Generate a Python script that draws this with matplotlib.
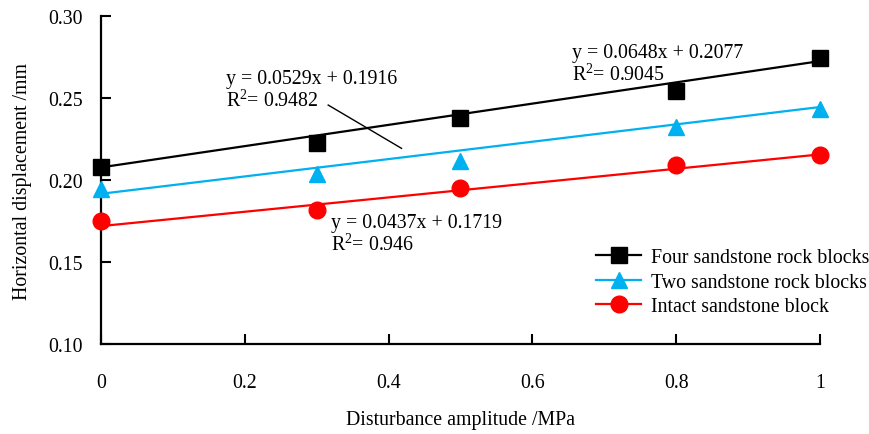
import matplotlib
matplotlib.use("Agg")
from matplotlib import pyplot as plt
from matplotlib.lines import Line2D
import numpy as np

plt.rcParams['font.family'] = ['Liberation Serif', 'DejaVu Serif']
plt.rcParams['mathtext.fontset'] = 'custom'
plt.rcParams['mathtext.rm'] = 'Liberation Serif'
plt.rcParams['mathtext.it'] = 'Liberation Serif:italic'

# data
amplitude = [0, 0.3, 0.5, 0.8, 1.0]
four_blocks = [0.208, 0.2223, 0.2376, 0.2541, 0.2744]
two_blocks = [0.1945, 0.2036, 0.2118, 0.2325, 0.2435]
intact_block = [0.175, 0.1817, 0.1949, 0.209, 0.2154]

labels = ["Four sandstone rock blocks", "Two sandstone rock blocks", "Intact sandstone block"]
slopes = [0.0648, 0.0529, 0.0437]
intercepts = [0.2077, 0.1916, 0.1719]
r2 = ["0.9045", "0.9482", "0.946"]

colors = ["black", "#00B0F0", "#FF0000"]
markers = ["s", "^", "o"]
msizes = [11.5, 12, 12]

fig = plt.figure(figsize=(8.7, 4.35), dpi=100)
ax = fig.add_axes([0.1161, 0.2069, 0.8264, 0.754])

series = [four_blocks, two_blocks, intact_block]
xfit = np.array([0.0, 1.0])
handles = []
for ys, k, b, c, m, ms, lab in zip(series, slopes, intercepts, colors, markers, msizes, labels):
    ax.plot(xfit, k * xfit + b, color=c, lw=1.6, zorder=2)
    ax.plot(amplitude, ys, linestyle='none', marker=m, markersize=ms, color=c, zorder=3, clip_on=False)
    handles.append(Line2D([], [], color=c, lw=1.6, marker=m, markersize=ms, label=lab))

fs = 14.3
# equation labels (baseline of the first line)
eq_pos = [(0.655, 0.2748), (0.174, 0.2591), (0.320, 0.1713)]
for (px, py), k, b, r in zip(eq_pos, slopes, intercepts, r2):
    ax.text(px, py, f"y = {k}x + {b}", fontsize=fs, va='baseline', ha='left')
    ax.text(px, py - 0.0138, f"R$^2$= {r}", fontsize=fs, va='baseline', ha='left')

# leader line for the middle equation
ax.plot([0.316, 0.418], [0.2457, 0.2193], color='black', lw=1.0)

ax.set_xlim(0, 1)
ax.set_ylim(0.10, 0.30)
ax.set_xticks([0, 0.2, 0.4, 0.6, 0.8, 1.0])
ax.set_xticklabels(["0", "0.2", "0.4", "0.6", "0.8", "1"])
ax.set_yticks([0.10, 0.15, 0.20, 0.25, 0.30])
ax.set_yticklabels(["0.10", "0.15", "0.20", "0.25", "0.30"])
ax.tick_params(direction='in', length=7, width=1.5, labelsize=fs)
ax.tick_params(axis='x', pad=21)
ax.tick_params(axis='y', pad=13)
for s in ['top', 'right']:
    ax.spines[s].set_visible(False)
for s in ['left', 'bottom']:
    ax.spines[s].set_linewidth(1.6)

ax.set_xlabel("Disturbance amplitude /MPa", fontsize=fs, labelpad=13)
ax.set_ylabel("Horizontal displacement /mm", fontsize=fs, labelpad=12)

ax.legend(handles=handles, loc='upper left', bbox_to_anchor=(0.677, 0.317), frameon=False,
          fontsize=fs, handlelength=2.3, labelspacing=0.28, handletextpad=0.5, borderaxespad=0)

fig.savefig("out.png", dpi=100)
